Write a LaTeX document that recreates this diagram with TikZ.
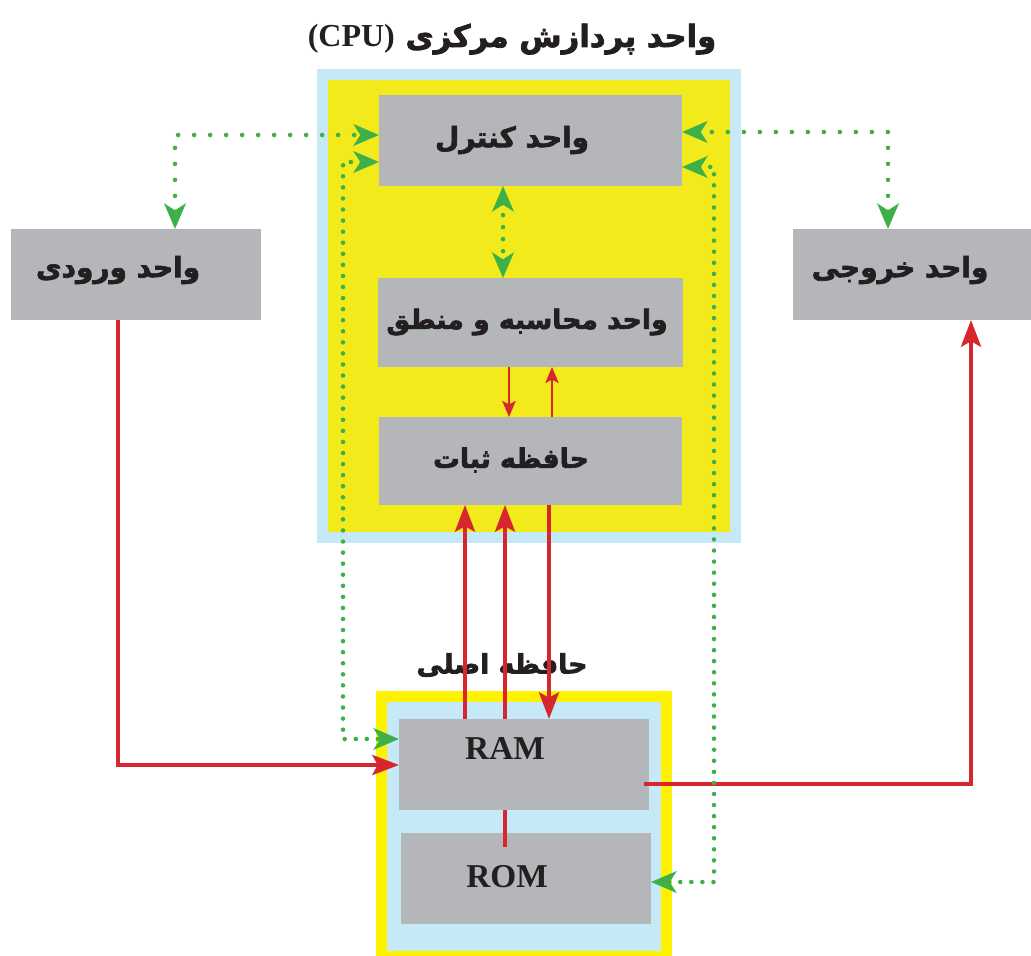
\documentclass[tikz,border=0pt]{standalone}
\usepackage{fontspec}
\setmainfont{Liberation Serif}
\newfontfamily\fa[Script=Arabic,BoldFeatures={FakeBold=2.5}]{DejaVu Sans}
\TeXXeTstate=1
\usetikzlibrary{arrows.meta,fit}
\definecolor{lblue}{HTML}{C6E9F8}
\definecolor{cpuyel}{HTML}{F2EA1A}
\definecolor{memyel}{HTML}{FFF200}
\definecolor{boxgray}{HTML}{B5B6BA}
\definecolor{rline}{HTML}{D6262E}
\definecolor{gdot}{HTML}{3DB049}
\definecolor{ink}{HTML}{231F20}
\tikzset{
  box/.style={fill=boxgray, draw=none, inner sep=0pt, outer sep=0pt},
  fatxt/.style={text=ink, font=\fa\bfseries\fontsize{21}{24}\selectfont, inner sep=0pt},
  latxt/.style={text=ink, font=\bfseries\fontsize{24}{26}\selectfont, inner sep=0pt},
  memtxt/.style={text=ink, font=\bfseries\fontsize{25}{27}\selectfont, inner sep=0pt},
  rarr/.style={draw=rline, line width=3pt, -{Stealth[length=20pt,width=15pt,inset=4pt]}},
  rarrs/.style={draw=rline, line width=1.6pt, -{Stealth[length=12pt,width=10pt,inset=2.5pt]}},
  rplain/.style={draw=rline, line width=3pt},
  garr/.style={draw=gdot, line width=3.4pt, line cap=round, dash pattern=on 0pt off 12pt,
    {Stealth[length=19pt,width=16pt,inset=5pt]}-{Stealth[length=19pt,width=16pt,inset=5pt]}},
  garrl/.style={garr, dash pattern=on 0pt off 8.3pt},
}
\begin{document}
\begin{tikzpicture}[x=0.75pt,y=-0.75pt]
\useasboundingbox (0,0) rectangle (1031,956);
% containers
\fill[lblue] (317,69) rectangle (741,543);
\fill[cpuyel] (328,80) rectangle (730,532);
\fill[memyel] (376,691) rectangle (672,956);
\fill[lblue] (387,702) rectangle (661,951);
% boxes
\node[box, fit={(379,95) (682,186)}] (cu) {};
\node[box, fit={(378,278) (683,367)}] (alu) {};
\node[box, fit={(379,417) (682,505)}] (reg) {};
\node[box, fit={(11,229) (261,320)}] (inp) {};
\node[box, fit={(793,229) (1031,320)}] (out) {};
\node[box, fit={(399,719) (649,810)}] (ram) {};
\node[box, fit={(401,833) (651,924)}] (rom) {};
% texts
\node[latxt, anchor=base] (title) at (512,47) {(CPU)\hspace{8pt}{\fa\fontsize{23}{26}\selectfont\beginR واحد پردازش مرکزی\endR}};
\node[fatxt] (cut) at (512,140) {\beginR واحد کنترل\endR};
\node[fatxt, font=\fa\bfseries\fontsize{20}{24}\selectfont] (alut) at (527,322) {\beginR واحد محاسبه و منطق\endR};
\node[fatxt, font=\fa\bfseries\fontsize{20}{24}\selectfont] (regt) at (511,460) {\beginR حافظه ثبات\endR};
\node[fatxt] (inpt) at (118,270) {\beginR واحد ورودی\endR};
\node[fatxt] (outt) at (900,270) {\beginR واحد خروجی\endR};
\node[fatxt, font=\fa\bfseries\fontsize{20}{24}\selectfont] (memt) at (502,665) {\beginR حافظه اصلی\endR};
\node[memtxt] (ramt) at (505,748) {RAM};
\node[memtxt] (romt) at (507,877) {ROM};
% coordinates
\coordinate (g1) at (175,135);
\coordinate (g2) at (888,132);
\coordinate (g3) at (503,0);
\coordinate (g4) at (343,162);
\coordinate (g5) at (343,739);
\coordinate (g6) at (714,167);
\coordinate (g7) at (714,882);
\coordinate (r1) at (118,765);
\coordinate (r2) at (971,784);
\coordinate (xa) at (465,0);
\coordinate (xb) at (505,0);
\coordinate (xc) at (549,0);
\coordinate (xd) at (509,0);
\coordinate (xe) at (552,0);
\coordinate (rr) at (505,847);
% red connectors
\draw[rplain] (ram.south -| rr) -- (rr);
\draw[rarr] (inp.south -| r1) |- (ram.west |- r1);
\draw[rarr] ([xshift=-4pt]ram.east |- r2) -| (out.south -| r2);
\draw[rarr] (ram.north -| xa) -- (reg.south -| xa);
\draw[rarr] (ram.north -| xb) -- (reg.south -| xb);
\draw[rarr] (reg.south -| xc) -- (ram.north -| xc);
\draw[rarrs] (alu.south -| xd) -- (reg.north -| xd);
\draw[rarrs] (reg.north -| xe) -- (alu.south -| xe);
% green connectors
\draw[garr] (inp.north -| g1) -- (g1) -- (cu.west |- g1);
\draw[garr] (out.north -| g2) -- (g2) -- (cu.east |- g2);
\draw[garr, dash pattern=on 0pt off 9pt] (cu.south -| g3) -- (alu.north -| g3);
\draw[garrl] (cu.west |- g4) -- (g4) -- (g5) -- (ram.west |- g5);
\draw[garrl] (cu.east |- g6) -- (g6) -- (g7) -- (rom.east |- g7);
\end{tikzpicture}
\end{document}
